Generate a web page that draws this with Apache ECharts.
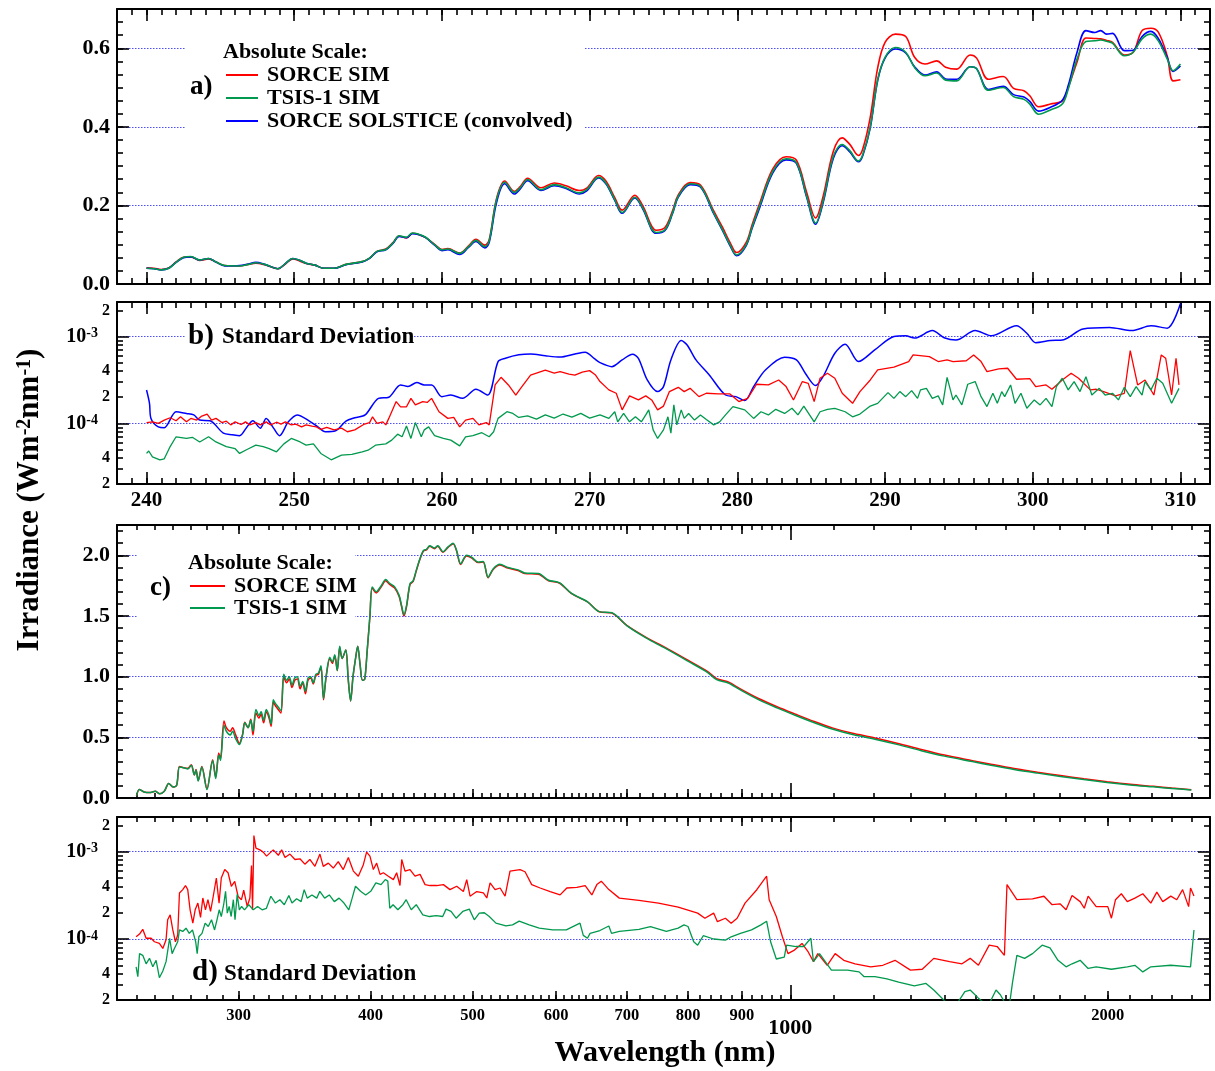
<!DOCTYPE html>
<html>
<head>
<meta charset="utf-8">
<script src="https://cdn.jsdelivr.net/npm/echarts@6/dist/echarts.min.js"></script>
<style>
  html, body { margin: 0; padding: 0; background: #fff; }
  #chart { width: 1215px; height: 1071px; }
</style>
</head>
<body>
<div id="chart"></div>
<script>
// ---------------------------------------------------------------------------
// a) 240-310 nm absolute irradiance (W m-2 nm-1)
// ---------------------------------------------------------------------------
const waveA = [
  240.0,240.5,241.0,241.5,242.0,242.5,243.0,243.6,244.2,244.7,
  245.3,246.3,246.9,247.4,248.0,248.9,249.4,249.9,250.4,250.8,
  251.4,252.0,252.7,253.5,254.6,255.1,255.6,256.2,256.7,257.1,
  257.6,258.0,258.4,258.9,259.5,260.0,260.4,261.2,261.8,262.3,
  262.9,263.2,263.7,264.25,264.9,265.3,265.8,266.7,267.6,268.4,
  269.3,269.8,270.6,271.1,271.7,272.2,273.06,273.6,274.5,275.1,
  275.6,276.0,276.8,277.5,278.4,279.0,279.5,279.95,280.6,281.0,
  281.5,282.4,283.3,284.0,284.7,285.3,285.8,286.5,287.1,287.6,
  288.2,288.5,289.0,289.5,290.0,290.7,291.4,292.0,292.7,293.5,
  294.1,294.85,295.76,296.2,297.0,298.0,298.7,299.4,299.8,300.4,
  301.2,302.0,302.4,303.0,303.6,304.2,304.6,305.0,305.4,306.2,
  306.8,307.4,308.0,308.5,309.1,309.5,310.0
];
const sorceSimA = [
  .041,.040,.037,.041,.056,.068,.069,.060,.064,.056,
  .047,.046,.050,.053,.049,.039,.051,.064,.058,.052,
  .048,.040,.040,.050,.057,.066,.083,.089,.106,.122,
  .117,.129,.126,.118,.101,.088,.090,.079,.097,.114,
  .099,.113,.218,.262,.236,.248,.269,.245,.257,.250,
  .238,.244,.276,.262,.220,.188,.226,.199,.137,.144,
  .185,.227,.258,.252,.186,.144,.106,.080,.106,.151,
  .204,.293,.324,.315,.232,.168,.222,.338,.372,.356,
  .327,.345,.425,.550,.615,.636,.630,.577,.560,.568,
  .552,.547,.583,.575,.521,.528,.498,.492,.479,.451,
  .458,.466,.500,.565,.626,.625,.624,.620,.615,.583,
  .590,.645,.651,.641,.581,.517,.520
];
const tsisSimA = [
  .040,.039,.036,.040,.055,.068,.070,.061,.065,.056,
  .047,.046,.050,.054,.050,.039,.052,.065,.060,.053,
  .048,.040,.040,.050,.057,.066,.083,.088,.105,.123,
  .119,.130,.127,.119,.100,.087,.089,.078,.095,.111,
  .095,.110,.215,.259,.233,.245,.266,.240,.253,.245,
  .232,.240,.272,.257,.215,.182,.221,.193,.131,.138,
  .180,.223,.255,.249,.181,.138,.100,.074,.100,.145,
  .198,.287,.319,.309,.223,.155,.210,.325,.355,.340,
  .313,.330,.400,.520,.577,.602,.590,.551,.530,.537,
  .519,.517,.553,.548,.493,.500,.477,.470,.458,.432,
  .443,.458,.496,.573,.617,.619,.621,.618,.613,.581,
  .590,.624,.636,.619,.573,.543,.560
];
const solsticeA = [
  .040,.039,.036,.040,.055,.067,.069,.061,.065,.056,
  .046,.047,.051,.055,.050,.039,.052,.065,.060,.053,
  .048,.040,.040,.049,.056,.065,.082,.087,.104,.121,
  .118,.128,.126,.118,.099,.085,.087,.075,.093,.108,
  .092,.106,.208,.255,.229,.242,.263,.238,.250,.243,
  .229,.237,.270,.255,.213,.180,.219,.191,.129,.136,
  .178,.221,.253,.247,.179,.136,.098,.072,.098,.142,
  .193,.283,.316,.307,.220,.152,.206,.320,.352,.337,
  .311,.328,.398,.518,.575,.598,.588,.553,.532,.540,
  .522,.521,.553,.548,.495,.503,.482,.476,.465,.440,
  .450,.468,.505,.590,.645,.640,.645,.636,.638,.594,
  .595,.630,.643,.625,.577,.541,.555
];

// ---------------------------------------------------------------------------
// b) 240-310 nm standard deviation, [wavelength nm, sigma in 1e-4 W m-2 nm-1]
// ---------------------------------------------------------------------------
const sorceSdUV = [
  [240.0,1.02],[240.4,1.04],[240.8,1.00],[241.2,1.09],[241.6,1.16],[242.0,1.07],[242.3,1.19],[242.7,1.04],[243.0,1.14],[243.4,1.09],
  [243.7,1.20],[244.1,1.28],[244.4,1.09],[244.7,1.14],[245.1,1.02],[245.4,1.06],[245.7,0.96],[246.0,1.04],[246.4,0.97],[246.7,1.04],
  [247.0,0.96],[247.4,1.02],[247.7,0.96],[248.1,1.04],[248.4,0.96],[248.8,1.03],[249.1,0.98],[249.4,1.04],[249.8,0.96],[250.1,0.98],
  [250.5,0.91],[250.8,0.96],[251.2,0.93],[251.5,0.91],[251.8,0.85],[252.2,0.90],[252.7,0.84],[253.2,0.88],[253.6,0.80],[254.1,0.84],
  [254.7,0.97],[255.1,1.02],[255.3,1.19],[255.6,1.00],[256.0,1.04],[256.2,0.96],[256.4,1.14],[256.9,1.78],[257.2,1.55],[257.6,1.55],
  [257.9,1.94],[258.2,1.63],[258.7,1.78],[259.0,1.74],[259.3,1.94],[259.8,1.36],[260.4,1.14],[260.8,1.17],[261.2,0.91],[261.6,1.09],
  [262.1,1.14],[262.5,0.96],[263.0,1.02],[263.2,0.96],[263.6,2.77],[264.0,3.39],[264.5,2.77],[265.0,2.12],[265.3,2.50],[266.0,3.60],
  [267.0,4.10],[267.6,3.80],[268.0,3.95],[268.6,3.70],[269.0,3.60],[269.5,3.90],[270.0,4.05],[270.4,3.60],[270.7,3.03],[271.3,2.43],
  [271.8,2.22],[272.2,1.43],[272.7,2.07],[273.3,1.86],[273.8,2.07],[274.2,1.86],[274.6,1.43],[275.0,1.58],[275.4,2.32],[276.0,2.60],
  [276.4,2.32],[276.8,2.53],[277.4,2.03],[277.9,2.22],[278.7,2.18],[279.5,2.18],[280.1,1.78],[280.7,1.94],[281.3,2.82],[282.1,2.77],
  [282.8,3.16],[283.3,2.65],[283.8,1.86],[284.4,3.03],[284.8,2.89],[285.2,1.78],[285.6,3.31],[286.1,3.78],[286.6,3.31],[287.1,2.22],
  [287.8,1.70],[288.3,2.32],[289.0,3.16],[289.5,4.12],[290.6,4.43],[291.6,5.15],[291.9,6.14],[293.0,5.87],[293.6,5.15],[294.2,5.38],
  [294.6,5.15],[295.5,5.26],[296.0,6.14],[296.5,5.15],[296.9,3.95],[297.7,4.23],[298.3,4.31],[298.9,3.22],[299.8,3.28],[300.2,2.65],
  [300.9,2.77],[301.3,2.47],[302.0,3.16],[302.6,3.78],[303.1,3.31],[303.9,2.43],[304.3,2.47],[304.8,2.32],[305.6,2.07],[306.2,2.22],
  [306.6,6.90],[307.1,2.77],[307.6,3.16],[308.2,2.12],[308.7,6.14],[309.0,5.62],[309.4,2.12],[309.7,5.62],[309.9,2.77]
];
const tsisSdUV = [
  [240.0,0.45],[240.15,0.48],[240.4,0.41],[240.9,0.38],[241.2,0.39],[241.6,0.54],[242.0,0.70],[242.7,0.67],[243.1,0.69],[243.6,0.61],
  [244.2,0.70],[244.7,0.61],[245.4,0.54],[246.0,0.51],[246.3,0.45],[246.8,0.50],[247.4,0.56],[247.9,0.54],[248.3,0.51],[248.8,0.47],
  [249.3,0.58],[249.8,0.67],[250.4,0.61],[250.8,0.56],[251.3,0.58],[251.8,0.45],[252.5,0.38],[253.2,0.43],[253.9,0.44],[254.6,0.47],
  [255.0,0.49],[255.5,0.56],[256.2,0.58],[256.6,0.64],[257.0,0.75],[257.3,0.70],[257.6,0.93],[257.9,0.67],[258.2,1.02],[258.6,0.70],
  [258.8,0.84],[259.1,0.91],[259.5,0.72],[260.1,0.67],[260.6,0.64],[261.2,0.55],[261.6,0.70],[262.1,0.72],[262.7,0.78],[263.2,0.70],
  [263.5,0.80],[263.8,1.14],[264.4,1.36],[264.8,1.30],[265.2,1.17],[265.8,1.22],[266.4,1.12],[267.0,1.25],[267.6,1.15],[268.2,1.28],
  [268.8,1.18],[269.4,1.30],[270.0,1.15],[270.7,1.25],[271.3,1.14],[271.7,1.36],[271.9,1.04],[272.3,1.30],[272.7,1.04],[273.1,1.19],
  [273.5,1.04],[273.8,1.25],[274.0,1.43],[274.3,0.84],[274.6,0.67],[275.0,0.84],[275.3,1.19],[275.5,0.77],[275.7,1.63],[275.9,0.96],
  [276.2,1.43],[276.4,1.14],[276.7,1.30],[277.1,1.09],[277.5,1.25],[277.9,1.11],[278.4,0.96],[278.8,1.04],[279.2,1.25],[279.7,1.56],
  [280.5,1.43],[281.1,1.14],[281.6,1.36],[282.1,1.25],[282.6,1.45],[283.2,1.30],[283.7,1.49],[284.1,1.25],[284.5,1.58],[285.2,1.04],
  [285.6,1.36],[286.1,1.45],[286.6,1.49],[287.3,1.36],[287.8,1.19],[288.3,1.28],[289.0,1.58],[289.5,1.70],[290.2,2.26],[290.6,1.94],
  [291.0,2.32],[291.4,2.03],[291.8,2.38],[292.2,1.94],[292.4,2.43],[292.8,2.53],[293.2,1.94],[293.6,2.07],[293.9,1.63],[294.2,3.39],
  [294.6,1.86],[294.8,2.12],[295.2,1.63],[295.6,2.82],[296.1,3.03],[296.5,2.03],[296.9,1.56],[297.3,2.22],[297.6,1.70],[297.9,2.32],
  [298.1,2.03],[298.5,2.77],[298.8,1.70],[299.2,2.22],[299.6,1.49],[300.1,1.86],[300.5,1.63],[300.9,1.94],[301.3,1.56],[301.6,2.65],
  [302.0,3.31],[302.4,2.43],[302.8,3.03],[303.2,2.32],[303.6,3.45],[304.0,2.12],[304.5,2.53],[304.9,2.12],[305.4,2.22],[305.8,1.86],
  [306.2,2.60],[306.6,2.03],[307.0,2.65],[307.4,2.12],[307.6,3.03],[308.0,2.43],[308.4,3.31],[308.8,2.89],[309.4,1.70],[309.9,2.53]
];
const solsticeSdUV = [
  [240.0,2.42],[240.2,1.70],[240.3,1.14],[240.8,0.91],[241.2,0.89],[242.0,1.36],[242.7,1.30],[243.2,1.25],[243.6,1.09],[244.3,1.07],
  [245.2,0.77],[245.8,0.74],[246.3,0.72],[246.8,0.91],[247.2,1.07],[247.7,0.88],[248.1,1.14],[248.6,0.88],[249.0,0.72],[249.6,1.04],
  [250.2,1.25],[251.0,1.07],[251.6,0.91],[252.1,0.80],[252.8,0.82],[253.5,1.06],[254.1,1.16],[254.8,1.25],[255.7,1.94],[256.4,2.00],
  [257.2,2.77],[257.7,2.66],[258.3,2.95],[258.8,2.77],[259.3,2.77],[260.0,2.03],[260.6,2.12],[261.4,1.94],[262.3,2.47],[263.1,2.12],
  [263.8,5.14],[264.3,5.62],[265.2,6.15],[266.0,6.30],[267.0,6.00],[268.0,5.80],[269.0,6.30],[269.7,6.60],[270.3,5.60],[270.7,5.01],
  [271.5,4.50],[272.2,5.38],[272.9,6.26],[273.3,5.62],[273.9,3.16],[274.6,2.32],[275.0,2.65],[275.5,5.38],[276.2,9.00],[276.6,8.00],
  [277.2,5.38],[278.1,3.61],[279.2,2.12],[279.9,2.03],[280.5,1.83],[281.1,2.65],[281.9,4.12],[283.2,5.78],[284.0,5.38],[284.6,3.78],
  [285.3,2.72],[285.8,3.45],[286.6,6.42],[287.3,8.16],[288.2,5.15],[289.3,7.00],[290.6,10.0],[291.4,10.2],[292.0,9.60],[293.2,11.7],
  [294.0,9.70],[294.8,9.10],[296.1,11.7],[297.2,10.2],[298.9,13.3],[299.6,10.9],[300.2,8.50],[301.2,9.00],[302.1,9.20],[303.4,12.2],
  [305.2,12.7],[306.7,11.7],[308.0,13.3],[309.1,12.5],[310.0,24.0]
];

// ---------------------------------------------------------------------------
// c) 240-2400 nm absolute irradiance, [wavelength nm, W m-2 nm-1]
// ---------------------------------------------------------------------------
const sorceSimVis = [
  [240,0.02],[241.5,0.07],[244,0.05],[247,0.045],[250,0.055],[252.5,0.035],[255,0.055],[257.5,0.12],[260,0.09],[262,0.105],
  [263.6,0.26],[266,0.25],[268.5,0.245],[270.5,0.275],[272.3,0.19],[273.3,0.235],[274.6,0.145],[276.8,0.26],[279.9,0.075],[283.4,0.315],
  [285.3,0.17],[287.2,0.37],[288.3,0.325],[290.5,0.635],[292,0.58],[294.5,0.55],[296,0.58],[298,0.52],[300.4,0.45],[302.5,0.52],
  [304,0.625],[306.2,0.58],[308,0.65],[309.5,0.52],[311.5,0.70],[313.5,0.66],[315,0.69],[316.8,0.62],[318.6,0.71],[320.5,0.66],
  [322,0.59],[323.5,0.79],[325,0.76],[327,0.73],[329,0.70],[331,1.0],[333,0.95],[335,0.98],[337,0.91],[339,0.97],
  [341,0.98],[343,0.90],[345,0.95],[347,0.86],[349,0.97],[351,0.99],[353,0.94],[355,1.01],[357,1.02],[359,1.08],
  [361,0.81],[363,0.99],[366,1.15],[368,1.11],[370,1.17],[372,1.05],[374,1.24],[376,1.15],[379,1.22],[381,0.98],
  [383,0.80],[385,1.0],[387,1.14],[389,1.25],[391,1.1],[393,0.97],[395,0.98],[397,1.2],[399.5,1.5],[401.5,1.73],
  [405,1.69],[409.5,1.74],[413.5,1.79],[417,1.76],[421.7,1.73],[425.8,1.66],[428,1.58],[430.3,1.50],[432.8,1.58],[436,1.76],
  [439,1.785],[442,1.87],[445.5,1.965],[449,2.035],[452,2.045],[455.2,2.075],[460,2.055],[463.3,2.075],[468.5,2.025],[473.8,2.065],
  [479,2.095],[482.7,2.035],[487,1.925],[493.3,1.995],[498.7,1.98],[506,1.94],[511.5,1.945],[517,1.815],[523,1.885],[530.6,1.92],
  [540,1.895],[552,1.875],[560,1.85],[577,1.845],[590,1.79],[604.5,1.77],[620.4,1.684],[642.4,1.616],[659,1.535],[677.6,1.524],
  [700.4,1.42],[730.6,1.322],[760.9,1.242],[800.6,1.134],[834.5,1.044],[851.6,0.984],[873.5,0.956],[895.9,0.901],[933,0.82],[971.6,0.752],
  [1012,0.69],[1054,0.630],[1098,0.576],[1143,0.535],[1203,0.495],[1265,0.45],[1331,0.40],[1400,0.354],[1488,0.308],[1550,0.278],
  [1630,0.243],[1716,0.212],[1804,0.185],[1898,0.158],[1997,0.134],[2100,0.113],[2209,0.096],[2300,0.082],[2400,0.068]
];
const tsisSimVis = [
  [240,0.02],[241.5,0.07],[244,0.05],[247,0.045],[250,0.055],[252.5,0.035],[255,0.055],[257.5,0.12],[260,0.09],[262,0.105],
  [263.6,0.255],[266,0.25],[268.5,0.24],[270.5,0.27],[272.3,0.19],[273.3,0.23],[274.6,0.14],[276.8,0.255],[279.9,0.07],[283.4,0.31],
  [285.3,0.16],[287.2,0.355],[288.3,0.31],[290.5,0.60],[292,0.55],[294.5,0.52],[296,0.55],[298,0.49],[300.4,0.44],[302.5,0.52],
  [304,0.62],[306.2,0.58],[308,0.64],[309.5,0.55],[311.5,0.73],[313.5,0.68],[315,0.71],[316.8,0.64],[318.6,0.73],[320.5,0.68],
  [322,0.61],[323.5,0.81],[325,0.78],[327,0.75],[329,0.72],[331,1.02],[333,0.97],[335,1.0],[337,0.93],[339,0.99],
  [341,1.0],[343,0.92],[345,0.96],[347,0.88],[349,0.99],[351,1.0],[353,0.95],[355,1.02],[357,1.03],[359,1.09],
  [361,0.82],[363,1.0],[366,1.16],[368,1.12],[370,1.18],[372,1.05],[374,1.25],[376,1.15],[379,1.22],[381,0.98],
  [383,0.80],[385,1.0],[387,1.14],[389,1.25],[391,1.1],[393,0.97],[395,0.98],[397,1.2],[399.5,1.5],[401.5,1.74],
  [405,1.70],[409.5,1.75],[413.5,1.80],[417,1.77],[421.7,1.74],[425.8,1.67],[428,1.59],[430.3,1.51],[432.8,1.59],[436,1.765],
  [439,1.79],[442,1.876],[445.5,1.97],[449,2.04],[452,2.05],[455.2,2.08],[460,2.06],[463.3,2.08],[468.5,2.03],[473.8,2.07],
  [479,2.10],[482.7,2.04],[487,1.93],[493.3,2.0],[498.7,1.985],[506,1.944],[511.5,1.95],[517,1.82],[523,1.89],[530.6,1.926],
  [540,1.90],[552,1.88],[560,1.855],[577,1.85],[590,1.795],[604.5,1.773],[620.4,1.686],[642.4,1.617],[659,1.536],[677.6,1.527],
  [700.4,1.418],[730.6,1.317],[760.9,1.235],[800.6,1.126],[834.5,1.036],[851.6,0.975],[873.5,0.948],[895.9,0.893],[933,0.811],[971.6,0.743],
  [1012,0.680],[1054,0.620],[1098,0.566],[1143,0.525],[1203,0.485],[1265,0.44],[1331,0.39],[1400,0.345],[1488,0.30],[1550,0.27],
  [1630,0.235],[1716,0.205],[1804,0.178],[1898,0.152],[1997,0.128],[2100,0.108],[2209,0.092],[2300,0.079],[2400,0.066]
];

// ---------------------------------------------------------------------------
// d) 240-2400 nm standard deviation, [wavelength nm, sigma in 1e-4 W m-2 nm-1]
// ---------------------------------------------------------------------------
const sorceSdVis = [
  [239.8,1.06],[241.6,1.14],[243.3,1.29],[245.1,1.02],[247.8,1.02],[249.6,0.93],[252.3,0.89],[254.2,0.78],[256.0,0.98],[256.9,1.66],
  [258.3,1.89],[259.8,1.27],[261.3,0.93],[262.6,1.11],[263.6,3.37],[265.5,3.68],[267.1,4.10],[268.4,3.68],[269.8,2.16],[271.4,1.52],
  [272.8,2.16],[274.4,2.58],[276.0,1.77],[277.4,2.95],[279.0,2.16],[280.5,2.82],[282.1,2.07],[283.6,2.95],[285.7,5.0],[287.4,2.58],
  [288.8,5.0],[291.0,6.25],[293.1,5.74],[295.2,4.02],[297.4,4.58],[299.6,3.07],[301.8,2.82],[303.3,3.62],[305.6,2.36],[307.4,2.95],
  [308.5,6.94],[309.2,2.16],[310.1,15.3],[311.5,11.0],[314.2,10.5],[316.5,9.9],[318.8,8.9],[321.2,9.7],[323.5,10.5],[327.1,9.1],
  [329.5,10.5],[331.9,8.6],[335.5,9.4],[339.2,8.15],[342.9,8.3],[346.6,7.2],[350.4,8.15],[354.3,6.8],[358.2,9.4],[360.8,6.8],
  [364.8,7.4],[368.8,6.5],[372.8,7.7],[376.9,6.25],[381.1,8.6],[385.3,6.0],[389.5,5.24],[393.8,7.1],[396.6,9.9],[399.5,8.9],
  [402.5,6.25],[405.4,7.4],[408.4,5.5],[411.4,5.74],[415.9,5.24],[420.5,4.79],[423.5,5.74],[426.6,4.1],[428.2,8.15],[431.3,6.0],
  [436.0,6.25],[440.8,5.24],[445.7,5.5],[450.6,4.2],[455.5,4.1],[462.2,4.1],[469.0,4.2],[475.8,3.68],[482.8,4.02],[489.9,3.5],
  [493.5,4.79],[497.1,3.09],[504.4,3.5],[511.8,3.37],[515.6,2.95],[519.3,4.4],[525.0,3.68],[530.8,3.84],[536.6,3.09],[542.4,6.0],
  [554.4,6.25],[560.5,5.9],[568.7,4.2],[579.3,3.84],[592.1,3.5],[605.1,3.2],[614.0,3.84],[627.6,3.9],[639.1,4.1],[648.5,3.2],
  [655.6,4.2],[662,4.6],[673,3.68],[688.6,2.94],[718.7,2.77],[750,2.58],[783,2.32],[817,1.98],[830,1.73],[846,1.98],
  [853,1.58],[868,1.73],[879,1.52],[890.5,1.73],[906,2.58],[929.6,3.67],[949.7,5.24],[955,2.82],[970,1.81],[983,1.06],
  [995,0.68],[1008,0.74],[1026,0.89],[1040,0.71],[1052,0.55],[1062,0.68],[1084,0.50],[1103,0.68],[1124,0.57],[1152,0.52],
  [1192,0.48],[1224,0.50],[1257,0.57],[1300,0.44],[1334,0.45],[1368,0.60],[1416,0.55],[1455,0.52],[1481,0.60],[1508,0.50],
  [1544,0.85],[1571,0.82],[1596,0.65],[1605,4.2],[1640,2.82],[1697,2.89],[1740,3.09],[1771,2.47],[1802,2.53],[1826,2.16],
  [1850,3.15],[1883,2.68],[1900,2.25],[1916,3.1],[1950,2.35],[2000,2.35],[2016,1.73],[2034,2.82],[2060,3.3],[2087,2.68],
  [2122,2.94],[2159,3.3],[2197,2.58],[2226,3.45],[2255,2.68],[2295,3.1],[2325,2.82],[2355,3.68],[2386,2.35],[2396,3.84],
  [2414,3.1]
];
const tsisSdVis = [
  [239.8,0.48],[240.7,0.37],[241.6,0.68],[243.3,0.65],[245.1,0.52],[246.9,0.60],[248.7,0.48],[250.5,0.57],[252.3,0.36],[254.2,0.43],
  [256.0,0.55],[258.0,1.02],[259.4,0.68],[260.7,0.78],[262.6,0.93],[263.6,1.27],[265.5,1.22],[267.4,1.33],[269.3,1.16],[271.2,1.27],
  [273.1,0.93],[274.0,0.68],[275.0,1.06],[276.9,1.16],[278.8,1.52],[280.7,1.39],[282.7,1.66],[284.6,1.27],[286.1,1.66],[287.5,2.16],
  [288.8,1.81],[290.3,2.47],[291.5,3.52],[292.6,1.98],[293.8,2.36],[295.1,1.81],[296.5,2.82],[297.6,1.66],[299.0,3.25],[300.4,2.16],
  [301.9,2.36],[303.8,2.16],[306.7,2.47],[309.7,2.16],[312.6,2.36],[315.7,2.16],[318.7,2.25],[321.8,3.09],[325.0,2.58],[328.2,2.82],
  [331.4,2.47],[334.7,3.15],[337.0,2.58],[340.4,2.89],[343.8,2.68],[346.1,3.68],[348.4,2.94],[352.0,3.2],[355.7,2.94],[358.1,3.52],
  [361.9,2.94],[365.6,3.2],[369.6,2.68],[373.5,2.94],[377.5,2.58],[381.5,2.16],[384.3,2.94],[387.1,4.02],[391.4,3.52],[395.8,3.2],
  [400.2,3.52],[404.7,4.4],[409.3,4.2],[413.1,4.8],[415.4,4.6],[417.2,2.25],[420.2,2.47],[424.6,2.16],[429.3,2.47],[432.4,2.82],
  [437.2,2.16],[442.0,2.47],[448.4,1.89],[455.0,1.81],[461.6,1.85],[468.3,1.81],[471.7,2.2],[476.9,2.07],[482.2,1.73],[489.2,2.07],
  [496.3,2.2],[501.7,1.66],[507.2,1.98],[512.8,2.0],[518.4,1.81],[526.0,1.52],[537.6,1.41],[545.4,1.45],[553.4,1.60],[565.6,1.45],
  [578.2,1.33],[595.4,1.27],[613.3,1.27],[631.9,1.52],[636.5,1.1],[642.3,1.02],[646.0,1.16],[660,1.25],[673,1.41],[677,1.16],
  [688.6,1.22],[718.7,1.29],[737,1.39],[763,1.22],[782.9,1.33],[793,1.45],[800,1.39],[810,0.93],[817,0.85],[827,1.09],
  [846,1.0],[868,0.97],[879,1.06],[897,1.16],[919,1.27],[938,1.45],[949.7,1.6],[958,0.93],[970,0.59],[987,0.62],
  [992,0.85],[1012.7,0.82],[1030,0.82],[1046,1.02],[1052,0.55],[1066,0.68],[1094,0.44],[1133,0.44],[1162,0.42],[1175,0.37],
  [1203,0.37],[1235,0.35],[1267,0.32],[1311,0.29],[1345,0.31],[1368,0.26],[1404,0.19],[1434,0.17],[1464,0.25],[1481,0.26],
  [1508,0.21],[1540,0.17],[1567,0.26],[1582,0.23],[1600,0.18],[1612,0.16],[1624,0.31],[1640,0.65],[1668,0.6],[1697,0.68],
  [1733,0.85],[1763,0.79],[1794,0.57],[1826,0.48],[1850,0.52],[1883,0.57],[1916,0.46],[1950,0.48],[2016,0.45],[2087,0.48],
  [2122,0.5],[2159,0.42],[2197,0.48],[2295,0.5],[2396,0.48],[2414,1.27]
];

// ---------------------------------------------------------------------------
// Axis tick / label positions
// ---------------------------------------------------------------------------
const uvMajorTicks = [240, 250, 260, 270, 280, 290, 300, 310];
const visLabelTicks = [300, 400, 500, 600, 700, 800, 900, 1000, 2000];
const visMajorTicks = [300, 400, 500, 600, 700, 800, 900, 2000];
const absTicksA = [0, 0.2, 0.4, 0.6];
const absTicksC = [0, 0.5, 1.0, 1.5, 2.0];
const sdLabelTicks = [2e-5, 4e-5, 1e-4, 2e-4, 4e-4, 1e-3, 2e-3];
const sdDecadeTicks = [1e-4, 1e-3];

// ---------------------------------------------------------------------------
const L = Math.log10;
const FONT = 'Liberation Serif';
const RED = '#ff0000', GREEN = '#00994d', BLUE = '#0000ff';

function range(a, b, step) {
  const out = [];
  for (let v = a; v <= b + 1e-9; v += step) out.push(+v.toFixed(6));
  return out;
}
const uvMinorTicks = range(238, 312, 1);
const visMinorTicks = range(240, 700, 10).concat(range(720, 1000, 20), range(1100, 2500, 100));
const absMinorA = range(0, 0.7, 0.2 / 6);
const absMinorC = range(0, 2.25, 0.1);
const sdMinorTicks = [];
[1e-5, 1e-4, 1e-3].forEach(d => { for (let m = 2; m <= 9; m++) sdMinorTicks.push(m * d); });

const txt = size => ({ fontFamily: FONT, fontWeight: 'bold', fontSize: size, color: '#000' });
const gridLineStyle = { show: true, lineStyle: { color: '#4f4fff', width: 1, type: [1.5, 1.5] } };

const xAxis = [], yAxis = [];
function add(list, o) { list.push(o); return list.length - 1; }

// One axis layer: optional frame line, inward ticks, labels, dotted grid lines.
function layer(gridIndex, position, min, max, o) {
  return {
    type: 'value', gridIndex, position, min, max, silent: true,
    axisLine: { show: !!o.line, onZero: false, lineStyle: { color: '#000', width: 2 } },
    axisTick: o.ticks
      ? { show: true, inside: true, length: o.len, customValues: o.ticks, lineStyle: { color: '#000', width: 1.6 } }
      : { show: false, customValues: o.grid },
    axisLabel: o.labels
      ? Object.assign({ show: true, customValues: o.labels, margin: o.margin, formatter: o.fmt }, o.labelStyle)
      : { show: false },
    splitLine: o.grid ? gridLineStyle : { show: false }
  };
}

// Labels for the log-scaled standard deviation axes
const sdFormatter = v => {
  const p = Math.floor(v + 1e-9);
  const m = Math.round(Math.pow(10, v - p));
  return m === 1 ? '{b|10}{s|' + p + '}' : '{d|' + m + '}';
};
const sdLabelStyle = {
  rich: {
    d: txt(16),
    b: txt(20),
    s: Object.assign(txt(14), { verticalAlign: 'top', lineHeight: 14, padding: [0, 12, 0, 0] })
  }
};
const visFormatter = v => {
  const n = Math.round(Math.pow(10, v));
  return n === 1000 ? '{big|1000}' : '{sm|' + n + '}';
};
const visLabelStyle = {
  rich: { sm: txt(16.5), big: Object.assign(txt(22), { padding: [10, 0, 0, 0] }) }
};

const grids = [
  { left: 117, width: 1093, top: 9, height: 275 },
  { left: 117, width: 1093, top: 302, height: 182 },
  { left: 117, width: 1093, top: 525, height: 273 },
  { left: 117, width: 1093, top: 817, height: 183 }
];

const uvMin = 238, uvMax = 312;
const visMin = L(230), visMax = L(2500);
const sdMin = L(2e-5), sdMax = L(2.5e-3);

const ax = [];
// wavelength axes (linear for a/b, log10 for c/d)
[0, 1].forEach(g => {
  const showLab = g === 1;
  const x = add(xAxis, layer(g, 'bottom', uvMin, uvMax, {
    line: true, ticks: uvMajorTicks, len: 12,
    labels: showLab ? uvMajorTicks : null, margin: 6,
    fmt: v => String(Math.round(v)), labelStyle: txt(21)
  }));
  add(xAxis, layer(g, 'bottom', uvMin, uvMax, { ticks: uvMinorTicks, len: 6 }));
  add(xAxis, layer(g, 'top', uvMin, uvMax, { line: true, ticks: uvMajorTicks, len: 12 }));
  add(xAxis, layer(g, 'top', uvMin, uvMax, { ticks: uvMinorTicks, len: 6 }));
  ax[g] = { x };
});
[2, 3].forEach(g => {
  const showLab = g === 3;
  const x = add(xAxis, layer(g, 'bottom', visMin, visMax, {
    line: true, ticks: visMajorTicks.map(L), len: 9,
    labels: showLab ? visLabelTicks.map(L) : null, margin: 7,
    fmt: visFormatter, labelStyle: visLabelStyle
  }));
  add(xAxis, layer(g, 'bottom', visMin, visMax, { ticks: [L(1000)], len: 15 }));
  add(xAxis, layer(g, 'bottom', visMin, visMax, { ticks: visMinorTicks.map(L), len: 5 }));
  add(xAxis, layer(g, 'top', visMin, visMax, { line: true, ticks: visMajorTicks.map(L), len: 9 }));
  add(xAxis, layer(g, 'top', visMin, visMax, { ticks: [L(1000)], len: 15 }));
  add(xAxis, layer(g, 'top', visMin, visMax, { ticks: visMinorTicks.map(L), len: 5 }));
  ax[g] = { x };
});

// irradiance axes (linear)
[[0, 0.70, absTicksA, absMinorA, [0.2, 0.4, 0.6]], [2, 2.25, absTicksC, absMinorC, [0.5, 1.0, 1.5, 2.0]]].forEach(([g, max, major, minor, gl]) => {
  ax[g].y = add(yAxis, layer(g, 'left', 0, max, {
    line: true, ticks: major, len: 12, labels: major, margin: 7,
    fmt: v => v.toFixed(1), labelStyle: txt(22)
  }));
  add(yAxis, layer(g, 'left', 0, max, { ticks: minor, len: 6 }));
  add(yAxis, layer(g, 'right', 0, max, { line: true, ticks: major, len: 12 }));
  add(yAxis, layer(g, 'right', 0, max, { ticks: minor, len: 6 }));
  add(yAxis, layer(g, 'left', 0, max, { grid: gl }));
});
// standard deviation axes (log10)
[1, 3].forEach(g => {
  ax[g].y = add(yAxis, layer(g, 'left', sdMin, sdMax, {
    line: true, ticks: sdDecadeTicks.map(L), len: 12, labels: sdLabelTicks.map(L), margin: 7,
    fmt: sdFormatter, labelStyle: sdLabelStyle
  }));
  add(yAxis, layer(g, 'left', sdMin, sdMax, { ticks: sdMinorTicks.map(L), len: 6 }));
  add(yAxis, layer(g, 'right', sdMin, sdMax, { line: true, ticks: sdDecadeTicks.map(L), len: 12 }));
  add(yAxis, layer(g, 'right', sdMin, sdMax, { ticks: sdMinorTicks.map(L), len: 6 }));
  add(yAxis, layer(g, 'left', sdMin, sdMax, { grid: sdDecadeTicks.map(L) }));
});

function line(name, color, g, data, smooth, width) {
  return {
    type: 'line', name, data,
    xAxisIndex: ax[g].x, yAxisIndex: ax[g].y,
    symbol: 'none', showSymbol: false, smooth: smooth || false,
    lineStyle: { color, width: width || 1.5 }, itemStyle: { color },
    clip: true, z: 3, silent: true
  };
}
const pairsA = vals => waveA.map((w, i) => [w, vals[i]]);
const sdUV = pts => pts.map(([w, s]) => [w, L(s * 1e-4)]);
const absVis = pts => pts.map(([w, v]) => [L(w), v]);
const sdVis = pts => pts.map(([w, s]) => [L(w), L(s * 1e-4)]);

const series = [
  line('SORCE SIM', RED, 0, pairsA(sorceSimA), 0.35, 1.6),
  line('SORCE SOLSTICE (convolved)', BLUE, 0, pairsA(solsticeA), 0.35, 1.6),
  line('TSIS-1 SIM', GREEN, 0, pairsA(tsisSimA), 0.35, 1.6),

  line('SORCE SOLSTICE (convolved)', BLUE, 1, sdUV(solsticeSdUV), 0.3, 1.5),
  line('SORCE SIM', RED, 1, sdUV(sorceSdUV), false, 1.3),
  line('TSIS-1 SIM', GREEN, 1, sdUV(tsisSdUV), false, 1.3),

  line('SORCE SIM', RED, 2, absVis(sorceSimVis), 0.3, 1.5),
  line('TSIS-1 SIM', GREEN, 2, absVis(tsisSimVis), 0.3, 1.5),

  line('SORCE SIM', RED, 3, sdVis(sorceSdVis), false, 1.3),
  line('TSIS-1 SIM', GREEN, 3, sdVis(tsisSdVis), false, 1.3)
];

const legendText = Object.assign(txt(22), { lineHeight: 22, padding: [0, 0, 0, 4] });

const label = (x, y, text, size, extra) => Object.assign({
  type: 'text', x, y, z: 5, silent: true,
  style: { text, font: 'bold ' + size + 'px "' + FONT + '"', fill: '#000', verticalAlign: 'middle' }
}, extra || {});

const whiteBox = (x, y, w, h) => ({
  type: 'rect', z: 1, silent: true, shape: { x, y, width: w, height: h }, style: { fill: '#fff' }
});

const option = {
  animation: false,
  backgroundColor: '#fff',
  grid: grids,
  xAxis, yAxis, series,
  legend: [
    {
      data: ['SORCE SIM', 'TSIS-1 SIM', 'SORCE SOLSTICE (convolved)'],
      orient: 'vertical', left: 226, top: 64, padding: 0, itemGap: 1,
      itemWidth: 32, itemHeight: 2, icon: 'rect', selectedMode: false,
      textStyle: legendText
    },
    {
      data: ['SORCE SIM', 'TSIS-1 SIM'],
      orient: 'vertical', left: 190, top: 575, padding: 0, itemGap: 0,
      itemWidth: 35, itemHeight: 2, icon: 'rect', selectedMode: false,
      textStyle: legendText
    }
  ],
  graphic: [
    whiteBox(185, 38, 400, 96),
    whiteBox(186, 324, 224, 26),
    whiteBox(138, 545, 217, 76),
    label(223, 52, 'Absolute Scale:', 22),
    label(190, 87, 'a)', 27),
    label(188, 337, 'b)', 29),
    label(222, 337, 'Standard Deviation', 23),
    label(188, 563, 'Absolute Scale:', 22),
    label(150, 588, 'c)', 27),
    label(192, 973, 'd)', 29),
    label(224, 974, 'Standard Deviation', 23),
    {
      type: 'text', x: 665, y: 1053, z: 5, silent: true,
      style: { text: 'Wavelength (nm)', font: 'bold 30px "' + FONT + '"', fill: '#000', align: 'center', verticalAlign: 'middle' }
    },
    {
      type: 'text', x: 30, y: 500, rotation: Math.PI / 2, z: 5, silent: true,
      style: {
        text: '{m|Irradiance (Wm}{s|-2}{m|nm}{s|-1}{m|)}',
        align: 'center', verticalAlign: 'middle',
        rich: {
          m: { fontFamily: FONT, fontWeight: 'bold', fontSize: 31, fill: '#000' },
          s: { fontFamily: FONT, fontWeight: 'bold', fontSize: 20, fill: '#000', verticalAlign: 'top', lineHeight: 20 }
        }
      }
    }
  ]
};

const chart = echarts.init(document.getElementById('chart'), null, { renderer: 'canvas' });
chart.setOption(option);
</script>
</body>
</html>
